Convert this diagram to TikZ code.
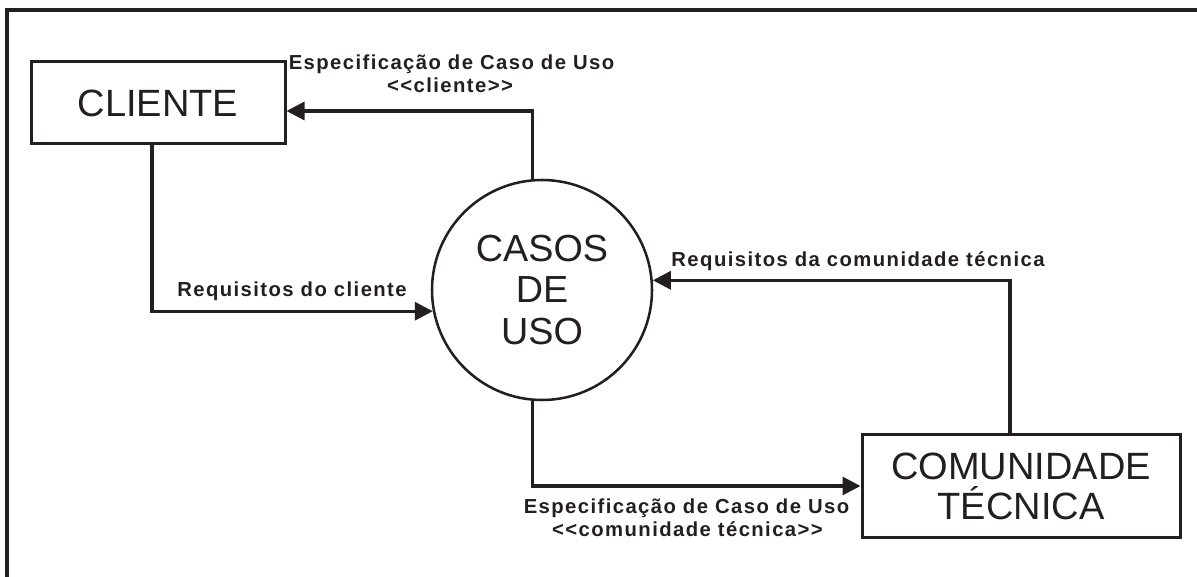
\documentclass[tikz,border=0pt]{standalone}
\usepackage{fontspec}
\setmainfont{Liberation Sans}
\newfontfamily\lblfont[LetterSpace=7]{Liberation Sans}
\usetikzlibrary{arrows.meta}
\definecolor{ink}{RGB}{35,31,32}
\tikzset{
  box/.style={draw=ink, line width=2.25pt, rectangle, inner sep=0pt, align=center, text=ink,
              font=\fontsize{28.5}{30}\selectfont},
  proc/.style={draw=ink, line width=1.9pt, circle, inner sep=0pt, minimum size=165pt, align=center,
               text=ink, font=\fontsize{28.3}{31.1}\selectfont},
  conn/.style={draw=ink, line width=2.4pt, -{Triangle[length=13.5pt,width=13.5pt]}},
  lbl/.style={anchor=base, inner sep=0pt, text=ink, font=\lblfont\bfseries\fontsize{15.2}{17}\selectfont},
  frame/.style={draw=ink, line width=3pt}
}
\begin{document}
\begin{tikzpicture}[x=0.75pt, y=-0.75pt]
  \useasboundingbox (0,0) rectangle (1197,577);
  % outer frame (only left and top edges visible)
  \coordinate (fbl) at (7,577);
  \coordinate (ftl) at (7,10);
  \coordinate (ftr) at (1197,10);
  \draw[frame] (fbl) -- (ftl) -- (ftr);

  % nodes
  \node[box, minimum width=190.5pt, minimum height=61.5pt] (cl) at (158,103) {CLIENTE};
  \node[proc] (cu) at (542,290) {CASOS\\DE\\USO};
  \node[box, minimum width=238.5pt, minimum height=76.5pt] (ct) at (1021,486) {COMUNIDADE\\TÉCNICA};

  % connectors
  \draw[conn] (cu.95) |- ([yshift=-6pt]cl.east);
  \draw[conn] ([xshift=-4.5pt]cl.south) |- (cu.191.5);
  \draw[conn] ([xshift=-8.25pt]ct.north) |- (cu.5.7);
  \draw[conn] (cu.265) |- (ct.west);

  % labels
  \node[lbl] (l1a) at (451.5,70) {Especificação de Caso de Uso};
  \node[lbl] (l1b) at (450,93) {<<cliente>>};
  \node[lbl] (l2) at (292,297) {Requisitos do cliente};
  \node[lbl] (l3) at (858,267) {Requisitos da comunidade técnica};
  \node[lbl] (l4a) at (686.5,513) {Especificação de Caso de Uso};
  \node[lbl] (l4b) at (687.5,537) {<<comunidade técnica>>};
\end{tikzpicture}
\end{document}
